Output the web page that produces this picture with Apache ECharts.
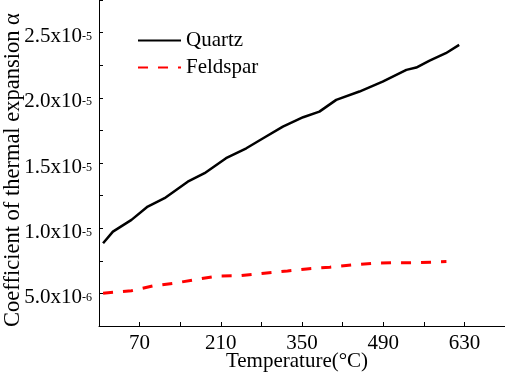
<!DOCTYPE html>
<html>
<head>
<meta charset="UTF-8">
<title>Thermal expansion</title>
<script src="https://cdn.jsdelivr.net/npm/echarts@6/dist/echarts.min.js"></script>
<style>
  html, body { margin: 0; padding: 0; background: #fff; }
  #main { width: 505px; height: 373px; }
</style>
</head>
<body>
<div id="main"></div>
<script type="text/javascript">
// temperature (°C) and coefficient (units of 1e-6)
var quartzT = [7, 24, 56, 84, 113, 153, 182, 219, 254, 283, 317, 352, 380, 409, 449, 489, 530, 547, 570, 598, 621];
var quartzA = [8.85, 9.74, 10.64, 11.66, 12.30, 13.57, 14.22, 15.37, 16.13, 16.90, 17.79, 18.51, 18.94, 19.84, 20.48, 21.24, 22.14, 22.32, 22.85, 23.42, 24.06];
var feldT = [7, 56, 93, 130, 170, 205, 245, 285, 325, 358, 398, 438, 475, 512, 553, 599];
var feldA = [5.01, 5.21, 5.57, 5.78, 6.09, 6.34, 6.36, 6.55, 6.72, 6.88, 7.01, 7.19, 7.32, 7.36, 7.36, 7.44];
var xLabels = [70, 210, 350, 490, 630];
var yLabels = [5, 10, 15, 20, 25];

function pairs(xs, ys) {
  var out = [];
  for (var i = 0; i < xs.length; i++) out.push([xs[i], ys[i]]);
  return out;
}

var font = 'Liberation Serif, Times New Roman, serif';
var myChart = echarts.init(document.getElementById('main'));

var option = {
  animation: false,
  textStyle: { fontFamily: font, color: '#000' },
  grid: { left: 99, right: 0, top: 0, bottom: 47, containLabel: false, outerBoundsMode: 'none' },
  legend: {
    orient: 'vertical',
    left: 132,
    top: 25,
    itemWidth: 43,
    itemHeight: 14,
    itemGap: 6,
    itemStyle: { opacity: 0 },
    textStyle: { fontFamily: font, fontSize: 21, color: '#000', lineHeight: 21 },
    data: ['Quartz', 'Feldspar']
  },
  xAxis: {
    type: 'value',
    min: 0, max: 700, interval: 70,
    name: 'Temperature(°C)',
    nameLocation: 'middle',
    nameGap: 25,
    nameMoveOverlap: false,
    nameTextStyle: { fontFamily: font, fontSize: 21, color: '#000', padding: [0, 10, 0, 0] },
    axisLine: { lineStyle: { color: '#000', width: 1 } },
    axisTick: { inside: true, length: 4, lineStyle: { color: '#000' } },
    axisLabel: {
      fontFamily: font, fontSize: 21, color: '#000', margin: 7,
      formatter: function (v) { return xLabels.indexOf(v) >= 0 ? String(v) : ''; }
    },
    splitLine: { show: false }
  },
  yAxis: {
    type: 'value',
    min: 2.5, max: 27.5, interval: 2.5,
    name: 'Coefficient of thermal expansion α',
    nameLocation: 'middle',
    nameGap: 74,
    nameRotate: 90,
    nameMoveOverlap: false,
    nameTextStyle: { fontFamily: font, fontSize: 22.5, color: '#000', padding: [0, 14, 0, 0] },
    axisLine: { show: true, lineStyle: { color: '#000', width: 1 } },
    axisTick: { show: true, inside: true, length: 4, lineStyle: { color: '#000' } },
    axisLabel: {
      margin: 7,
      formatter: function (v) {
        if (yLabels.indexOf(v) < 0) return '';
        var e = v >= 10 ? -5 : -6;
        var m = v >= 10 ? v / 10 : v;
        return '{b|' + m.toFixed(1) + 'x10}{s|' + e + '}';
      },
      rich: {
        b: { fontFamily: font, fontSize: 21, color: '#000', lineHeight: 21, padding: [8, 0, 0, 0] },
        s: { fontFamily: font, fontSize: 12, color: '#000', lineHeight: 14, verticalAlign: 'top', padding: [9, 0, 0, 0] }
      }
    },
    splitLine: { show: false }
  },
  series: [
    {
      name: 'Quartz',
      type: 'line',
      symbol: 'none',
      data: pairs(quartzT, quartzA),
      lineStyle: { color: '#000', width: 2.5 },
      itemStyle: { color: '#000' }
    },
    {
      name: 'Feldspar',
      type: 'line',
      symbol: 'none',
      data: pairs(feldT, feldA),
      lineStyle: { color: '#ff0000', width: 3, type: [10, 10] },
      itemStyle: { color: '#ff0000' }
    }
  ]
};

myChart.setOption(option);
</script>
</body>
</html>
